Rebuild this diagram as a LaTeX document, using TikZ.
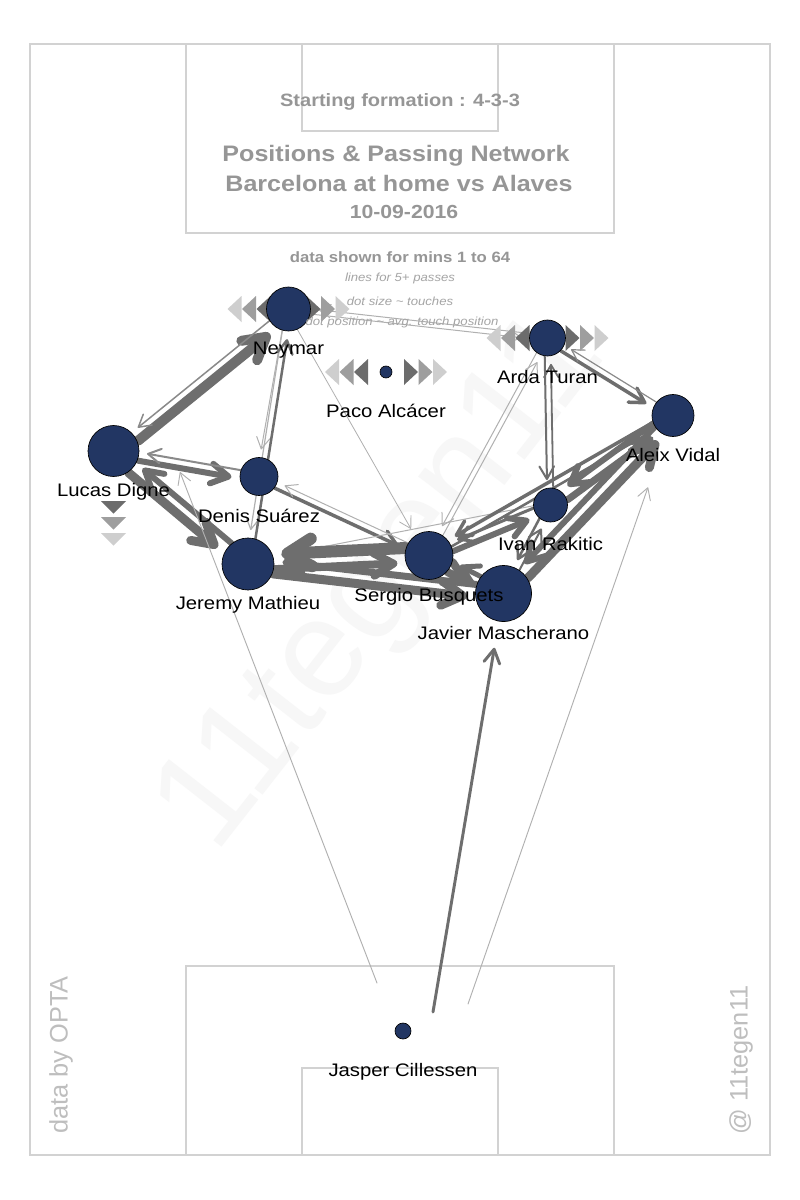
\documentclass[tikz,border=0pt]{standalone}
\usepackage{fontspec}
\setmainfont{Liberation Sans}[FakeStretch=1.12]
\newfontfamily\plainsans{Liberation Sans}
\usetikzlibrary{calc,arrows.meta,positioning}

\definecolor{navy}{RGB}{34,54,99}
\definecolor{pitchline}{RGB}{210,210,210}
\definecolor{ttlgray}{RGB}{150,150,150}
\definecolor{notegray}{RGB}{165,165,165}
\definecolor{sidegray}{RGB}{190,190,190}
\definecolor{edk}{RGB}{110,110,110}
\definecolor{emd}{RGB}{138,138,138}
\definecolor{elt}{RGB}{176,176,176}
\definecolor{tdark}{RGB}{108,108,108}
\definecolor{tmid}{RGB}{158,158,158}
\definecolor{tlight}{RGB}{206,206,206}

\pgfdeclarelayer{pitch}
\pgfdeclarelayer{edges}
\pgfsetlayers{pitch,edges,main}

% dot radius per player (px)
\def\radney{22}\def\radard{18}\def\radpac{6}\def\radvid{21}
\def\raddig{25.5}\def\radsua{19}\def\radrak{17}\def\radbus{24}
\def\radmat{26}\def\radmas{28}\def\radcil{8}

% three triangles either side of a dot
\newcommand{\sidemarks}[1]{%
  \foreach \i/\col in {0/tdark,1/tmid,2/tlight}{
    \fill[\col] ($(#1)+(18+14.5*\i,-13)$) -- ++(14,13) -- ++(-14,13) -- cycle;
    \fill[\col] ($(#1)+(-18-14.5*\i,-13)$) -- ++(-14,13) -- ++(14,13) -- cycle;
  }}

\begin{document}
\begin{tikzpicture}[x=0.75pt, y=-0.75pt,
  player/.style={circle, draw=black, line width=0.5pt, fill=navy, inner sep=0pt},
  plabel/.style={inner sep=0pt, text height=9.8pt, text depth=0pt, font=\fontsize{13.6}{16}\selectfont},
  ttl/.style={text=ttlgray, inner sep=0pt, text depth=0pt},
  note/.style={text=notegray, inner sep=0pt, text depth=0pt, text height=6.3pt, font=\itshape\fontsize{8.8}{10}\selectfont},
  side/.style={text=sidegray, rotate=90, inner sep=0pt, font=\plainsans\fontsize{19}{22}\selectfont},
  pass/.style={-{Straight Barb[angle=60:9pt 1.3, round]}, line cap=round},
  pitchln/.style={draw=pitchline, line width=1.1pt}]
\useasboundingbox (0,0) rectangle (800,1200);

\begin{pgfonlayer}{pitch}
\fill[white] (0,0) rectangle (800,1200);
\node[text=black!3, rotate=52, font=\plainsans\fontsize{104}{104}\selectfont] (wm) at (385,585) {11tegen11};
\draw[pitchln] (30,44) rectangle (770,1155);
\draw[pitchln] (186,44) rectangle (614,233);
\draw[pitchln] (302,44) rectangle (498,131);
\draw[pitchln] (186,966) rectangle (614,1155);
\draw[pitchln] (302,1068) rectangle (498,1155);
\end{pgfonlayer}

% players
\foreach \n/\x/\y in {ney/288.5/309, ard/547.5/338, pac/386/372, vid/673/415.5, dig/113.5/451,
    sua/259/476.5, rak/550.5/505, bus/429/555.5, mat/248/564, mas/503.5/593.5, cil/403/1031}{
  \pgfmathsetmacro\dia{\csname rad\n\endcsname*1.5}
  \node[player, minimum size=\dia pt] (\n) at (\x,\y) {};
}
\foreach \n/\t in {ney/Neymar, ard/Arda Turan, pac/Paco Alcácer, vid/Aleix Vidal, dig/Lucas Digne,
    sua/Denis Suárez, rak/Ivan Rakitic, bus/Sergio Busquets, mat/Jeremy Mathieu,
    mas/Javier Mascherano, cil/Jasper Cillessen}
  \node[plabel] (\n-lab) at ([yshift=-29.25pt]\n.center) {\t};

\begin{pgfonlayer}{edges}
\foreach \a/\b/\w/\col in {dig/ney/10/edk, ney/dig/1.5/emd, dig/mat/9/edk, mat/dig/6/edk,
    dig/sua/6/edk, sua/dig/2/emd, ney/mat/1.2/elt, ney/sua/1/elt, mat/ney/2.5/edk,
    sua/bus/3.5/edk, bus/sua/1/elt, rak/mat/1/elt, ney/bus/0.8/elt, ney/ard/1/elt, ard/ney/1/elt,
    bus/mat/12/edk, mat/bus/8/edk, mat/mas/9/edk, mas/mat/7/edk, bus/mas/8/edk, mas/bus/5/edk,
    bus/rak/6/edk, rak/bus/3/edk, vid/bus/3.5/edk, bus/vid/2.5/edk, rak/vid/7/edk, vid/rak/6/edk,
    mas/vid/9/edk, vid/mas/6/edk, rak/mas/2.5/edk, mas/rak/2/edk, ard/rak/2/edk, rak/ard/1.8/edk,
    ard/vid/3.5/edk, vid/ard/1.2/emd, bus/ard/1/elt, ard/bus/1/elt}{
  \pgfmathsetmacro\off{(2+0.55*\w)*0.75}
  \pgfmathsetmacro\sa{(\csname rad\a\endcsname)*0.75}
  \pgfmathsetmacro\sb{(\csname rad\b\endcsname+8)*0.75}
  \pgfmathsetmacro\lw{\w*0.75}
  \draw[pass, draw=\col, line width=\lw pt, shorten <=\sa pt, shorten >=\sb pt]
    ($(\a)!\off pt!-90:(\b)$) -- ($(\b)!\off pt!90:(\a)$);
}
% keeper's passes
\coordinate (cil-mas) at (433,1012);
\coordinate (cil-vid) at (468,1004);
\coordinate (cil-left) at (377,983);
\coordinate (dig-low) at (180,472);
\draw[pass, draw=edk, line width=2.2pt, shorten >=20pt] (cil-mas) -- (mas);
\draw[pass, draw=elt, line width=0.7pt, shorten >=41pt] (cil-vid) -- (vid);
\draw[pass, draw=elt, line width=0.7pt] (cil-left) -- (dig-low);
% on/off markers
\sidemarks{ney}
\sidemarks{ard}
\sidemarks{pac}
\foreach \i/\col in {0/tdark,1/tmid,2/tlight}
  \fill[\col] ($(dig)+(-12.5,50+16*\i)$) -- ++(25,0) -- ++(-12.5,12.5) -- cycle;
\end{pgfonlayer}

% headings
\node[ttl, text height=9.8pt, font=\bfseries\fontsize{13.4}{15}\selectfont] (formation) at (400,100) {Starting formation : 4-3-3};
\node[ttl, text height=12.2pt, font=\bfseries\fontsize{16.8}{19}\selectfont] (title) at (396,153) {Positions \& Passing Network};
\node[ttl, text height=12.2pt, font=\bfseries\fontsize{16.8}{19}\selectfont] (match) at (399,183) {Barcelona at home vs Alaves};
\node[ttl, text height=10.2pt, font=\bfseries\fontsize{14.2}{16}\selectfont] (date) at (404,212) {10-09-2016};
\node[ttl, text height=8pt, font=\bfseries\fontsize{11.2}{13}\selectfont] (mins) at (400,257) {data shown for mins 1 to 64};
\node[note] (note1) at (400,277) {lines for 5+ passes};
\node[note] (note2) at (400,301) {dot size \textasciitilde{} touches};
\node[note] (note3) at (402,321) {dot position \textasciitilde{} avg. touch position};
\node[side] (opta) at (61,1055) {data by OPTA};
\node[side] (tag) at (741,1060) {@ 11tegen11};
\end{tikzpicture}
\end{document}
